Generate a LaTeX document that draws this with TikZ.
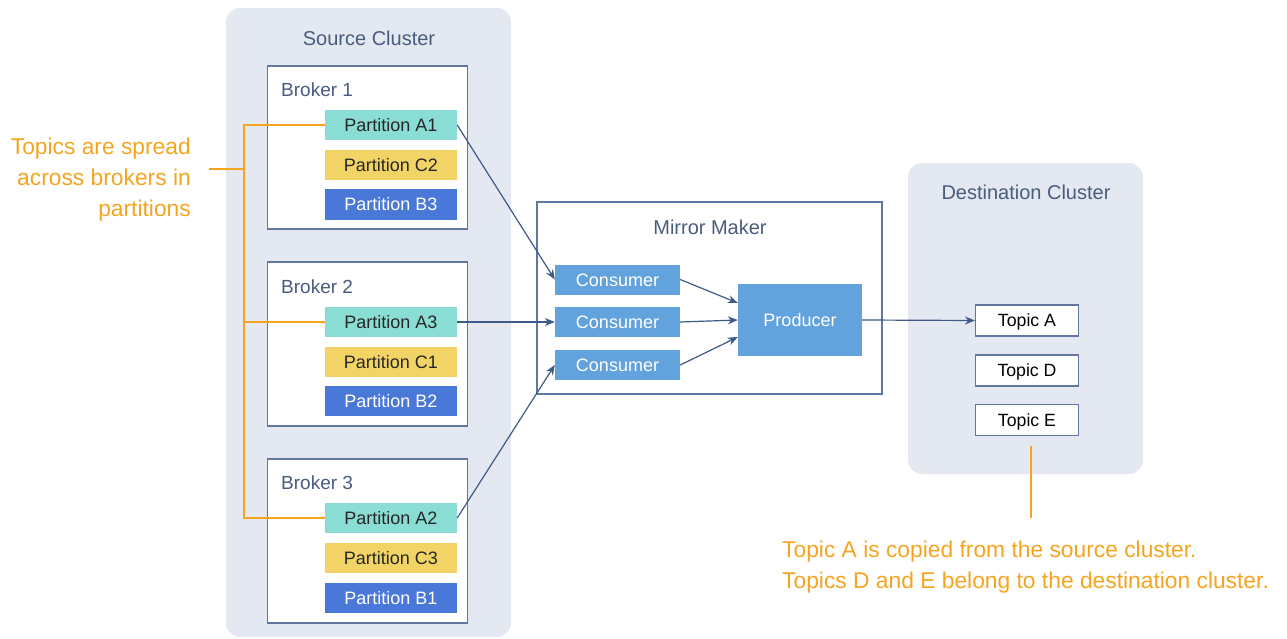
\documentclass[tikz,border=0pt]{standalone}
\usepackage{fontspec}
\setmainfont{Liberation Sans}
\usetikzlibrary{arrows.meta}
\definecolor{clusterbg}{RGB}{228,233,241}
\definecolor{edgeblue}{RGB}{96,120,160}
\definecolor{titleblue}{RGB}{72,92,126}
\definecolor{partA}{RGB}{138,221,212}
\definecolor{partC}{RGB}{242,212,102}
\definecolor{partB}{RGB}{74,120,216}
\definecolor{worker}{RGB}{98,163,222}
\definecolor{noteorange}{RGB}{245,164,32}
\definecolor{flowblue}{RGB}{62,90,135}

\begin{document}
\begin{tikzpicture}[x=1pt,y=-1pt,
    >={Stealth[length=10pt,width=8pt]},
    cluster/.style={fill=clusterbg,rounded corners=14pt,inner sep=0pt},
    box/.style={draw=edgeblue,line width=1.3pt,fill=white,inner sep=0pt},
    title/.style={inner sep=0pt,text=titleblue,font=\fontsize{20}{24}\selectfont,text height=14.4pt,text depth=0pt},
    brokername/.style={title,anchor=west,font=\fontsize{19}{23}\selectfont,text height=13.7pt},
    part/.style={minimum width=132pt,minimum height=30pt,inner sep=0pt,text height=13pt,text depth=0pt,font=\fontsize{18}{22}\selectfont,text=black!85},
    worker/.style={fill=worker,text=white,inner sep=0pt,text height=13pt,text depth=0pt,font=\fontsize{18}{22}\selectfont},
    topic/.style={box,line width=1.1pt,minimum width=103pt,minimum height=31pt,text height=12.7pt,text depth=0pt,font=\fontsize{17.7}{22}\selectfont},
    flow/.style={->,draw=flowblue,line width=1.2pt},
    noteline/.style={draw=noteorange,line width=1.6pt},
    note/.style={inner sep=0pt,text=noteorange,font=\fontsize{22.8}{31}\selectfont}]
      \useasboundingbox (0,0) rectangle (1287,639);
      % clusters
      \node[cluster,minimum width=285pt,minimum height=629pt] (src) at (368.5,322.5) {};
      \node[title] (srcT) at (369,38) {Source Cluster};
      \node[cluster,minimum width=235pt,minimum height=311pt] (dst) at (1025.5,318.5) {};
      \node[title] (dstT) at (1026,192) {Destination Cluster};
      % brokers
      \node[box,minimum width=200pt,minimum height=163pt] (b1) at (367.5,147.5) {};
      \node[box,minimum width=200pt,minimum height=164pt] (b2) at (367.5,344) {};
      \node[box,minimum width=200pt,minimum height=164pt] (b3) at (367.5,541) {};
      \node[brokername] (b1T) at (281,90) {Broker 1};
      \node[brokername] (b2T) at (281,287) {Broker 2};
      \node[brokername] (b3T) at (281,483) {Broker 3};
      \node[part,fill=partA] (a1) at (391,125) {Partition A1};
      \node[part,fill=partC] (c2p) at (391,165) {Partition C2};
      \node[part,fill=partB,text=white] (b3p) at (391,204.5) {Partition B3};
      \node[part,fill=partA] (a3) at (391,322) {Partition A3};
      \node[part,fill=partC] (c1p) at (391,361.5) {Partition C1};
      \node[part,fill=partB,text=white] (b2p) at (391,401) {Partition B2};
      \node[part,fill=partA] (a2) at (391,518) {Partition A2};
      \node[part,fill=partC] (c3p) at (391,558) {Partition C3};
      \node[part,fill=partB,text=white] (b1p) at (391,597.5) {Partition B1};
      % mirror maker
      \node[box,minimum width=345pt,minimum height=192pt] (mm) at (709.5,298) {};
      \node[title] (mmT) at (710,227) {Mirror Maker};
      \node[worker,minimum width=125pt,minimum height=30pt] (c1) at (617.5,279.5) {Consumer};
      \node[worker,minimum width=125pt,minimum height=30pt] (c2) at (617.5,322) {Consumer};
      \node[worker,minimum width=125pt,minimum height=30pt] (c3) at (617.5,365) {Consumer};
      \node[worker,minimum width=124pt,minimum height=72pt] (prod) at (800,320) {Producer};
      % topics
      \node[topic] (tA) at (1027,320.5) {Topic A};
      \node[topic] (tD) at (1027,370.5) {Topic D};
      \node[topic] (tE) at (1027,420) {Topic E};

      \draw[flow] (a1.east) -- (c1.west);
      \draw[flow] (a3.east) -- (c2.west);
      \draw[flow] (a2.east) -- (c3.west);
      \draw[flow] (c1.east) -- ([yshift=17pt]prod.west);
      \draw[flow] (c2.east) -- (prod.west);
      \draw[flow] (c3.east) -- ([yshift=-17pt]prod.west);
      \draw[flow] (prod.east) -- (tA.west);

      % notes
      \coordinate (spine) at (244,0);
      \coordinate (tick) at (209,169);
      \draw[noteline] (a1.west) -| (spine |- a2.west) -- (a2.west);
      \draw[noteline] (a3.west) -- (a3.west -| spine);
      \draw[noteline] (tick) -- (tick -| spine);
      \node[note,anchor=north east,align=right] (spread) at (191,138) {Topics are spread\\across brokers in\\partitions};
      \coordinate (eTail) at (1031,446);
      \coordinate (eTip) at (1031,518);
      \draw[noteline] (eTail) -- (eTip);
      \node[note,anchor=north west,align=left] (copied) at (782,541) {Topic A is copied from the source cluster.\\Topics D and E belong to the destination cluster.};
\end{tikzpicture}
\end{document}
